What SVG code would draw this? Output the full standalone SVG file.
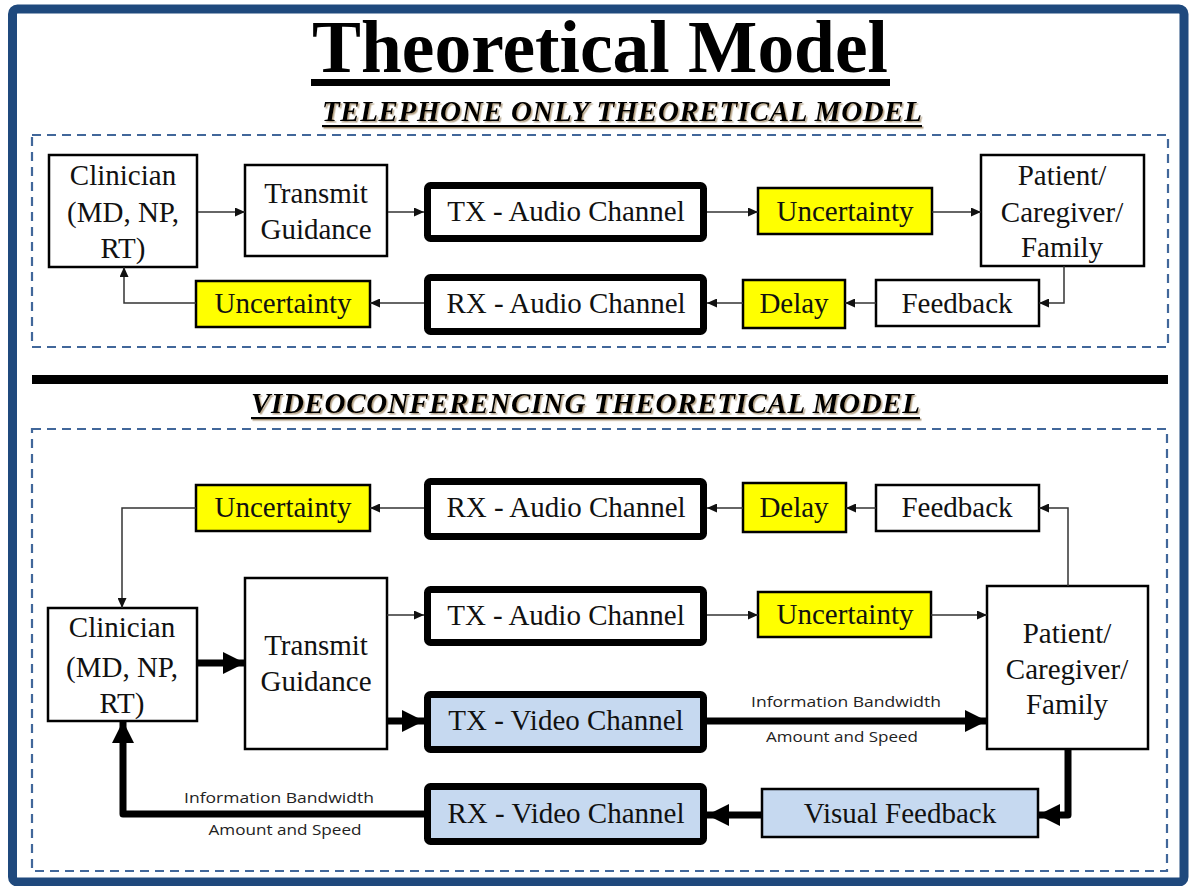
<svg xmlns="http://www.w3.org/2000/svg" width="1190" height="886" viewBox="0 0 1190 886">
  <defs>
    <style>
      .frame { fill: #ffffff; stroke: #1f497d; stroke-width: 9; }
      .zone { fill: none; stroke: #41679a; stroke-width: 2.2; stroke-dasharray: 9 6; }
      .box { fill: #ffffff; stroke: #000; stroke-width: 2.5; }
      .warn { fill: #ffff00; stroke: #000; stroke-width: 2.5; }
      .vis { fill: #c6d9f0; stroke: #000; stroke-width: 2.5; }
      .chan { fill: #ffffff; stroke: #000; stroke-width: 7; }
      .chanv { fill: #c6d9f0; stroke: #000; stroke-width: 7; }
      .lbl { font-family: "Liberation Serif", "Times New Roman", serif; font-size: 29px; fill: #111; text-anchor: middle; }
      .note { font-family: "Open Sans", "Liberation Sans", sans-serif; font-size: 15px; fill: #222; text-anchor: middle; }
      .head { font-family: "Liberation Serif", "Times New Roman", serif; font-weight: bold; font-style: italic; font-size: 29px; fill: #000; }
      .thin { fill: none; stroke: #333; stroke-width: 1.5; marker-end: url(#arrowThin); }
      .thick { fill: none; stroke: #000; stroke-width: 7; stroke-linejoin: round; marker-end: url(#arrowThick); }
    </style>
    <marker id="arrowThin" markerUnits="userSpaceOnUse" markerWidth="10" markerHeight="9" refX="10" refY="4.5" orient="auto">
      <path d="M0,0 L10,4.5 L0,9 z" fill="#111"/>
    </marker>
    <marker id="arrowThick" markerUnits="userSpaceOnUse" markerWidth="22" markerHeight="22" refX="22" refY="11" orient="auto">
      <path d="M0,0 L22,11 L0,22 z" fill="#000"/>
    </marker>
    <filter id="softShadow" x="-5%" y="-30%" width="110%" height="160%">
      <feDropShadow dx="1.5" dy="1.5" stdDeviation="0.6" flood-color="#7a5a2a" flood-opacity="0.55"/>
    </filter>
  </defs>

  <!-- outer frame -->
  <rect class="frame" x="12.5" y="9" width="1171.5" height="873" rx="5"/>

  <!-- headings -->
  <g id="title">
    <text x="600" y="72" font-family="Liberation Serif, Times New Roman, serif" font-weight="bold" font-size="73" text-anchor="middle" textLength="576" lengthAdjust="spacingAndGlyphs">Theoretical Model</text>
    <rect x="311" y="79" width="579" height="7" fill="#000"/>
  </g>
  <g id="heading-telephone" filter="url(#softShadow)">
    <text class="head" x="322" y="121" textLength="600" lengthAdjust="spacing">TELEPHONE ONLY THEORETICAL MODEL</text>
    <rect x="322" y="125" width="600" height="2.2" fill="#000"/>
  </g>
  <g id="heading-video" filter="url(#softShadow)">
    <text class="head" x="251" y="413" textLength="669" lengthAdjust="spacing">VIDEOCONFERENCING THEORETICAL MODEL</text>
    <rect x="251" y="417" width="669" height="2.2" fill="#000"/>
  </g>

  <!-- section frames and divider -->
  <rect class="zone" x="32" y="135" width="1136" height="212"/>
  <rect x="32" y="375" width="1136" height="9" fill="#000"/>
  <rect class="zone" x="32" y="429" width="1135" height="442"/>

  <!-- ===== telephone-only model ===== -->
  <g id="t-clinician">
    <rect class="box" x="49" y="155" width="148" height="112"/>
    <text class="lbl" x="123" y="185">Clinician</text>
    <text class="lbl" x="123" y="222">(MD, NP,</text>
    <text class="lbl" x="123" y="258">RT)</text>
  </g>
  <g id="t-transmit">
    <rect class="box" x="245" y="165" width="142" height="91"/>
    <text class="lbl" x="316" y="203">Transmit</text>
    <text class="lbl" x="316" y="239">Guidance</text>
  </g>
  <g id="t-tx-audio">
    <rect class="chan" x="427.5" y="185.5" width="276" height="53" rx="3"/>
    <text class="lbl" x="566" y="221">TX - Audio Channel</text>
  </g>
  <g id="t-uncertainty-out">
    <rect class="warn" x="758" y="188" width="174" height="46"/>
    <text class="lbl" x="845" y="221">Uncertainty</text>
  </g>
  <g id="t-patient">
    <rect class="box" x="981" y="155" width="163" height="111"/>
    <text class="lbl" x="1062" y="185">Patient/</text>
    <text class="lbl" x="1062" y="222">Caregiver/</text>
    <text class="lbl" x="1062" y="257">Family</text>
  </g>
  <g id="t-feedback">
    <rect class="box" x="876" y="280" width="163" height="46"/>
    <text class="lbl" x="957" y="313">Feedback</text>
  </g>
  <g id="t-delay">
    <rect class="warn" x="743" y="280" width="102" height="48"/>
    <text class="lbl" x="794" y="313">Delay</text>
  </g>
  <g id="t-rx-audio">
    <rect class="chan" x="427.5" y="277.5" width="276" height="54" rx="3"/>
    <text class="lbl" x="566" y="313">RX - Audio Channel</text>
  </g>
  <g id="t-uncertainty-in">
    <rect class="warn" x="196" y="281" width="174" height="46"/>
    <text class="lbl" x="283" y="313">Uncertainty</text>
  </g>

  <!-- ===== videoconferencing model ===== -->
  <g id="v-uncertainty-in">
    <rect class="warn" x="196" y="485" width="174" height="46"/>
    <text class="lbl" x="283" y="517">Uncertainty</text>
  </g>
  <g id="v-rx-audio">
    <rect class="chan" x="427.5" y="481.5" width="276" height="55" rx="3"/>
    <text class="lbl" x="566" y="517">RX - Audio Channel</text>
  </g>
  <g id="v-delay">
    <rect class="warn" x="743" y="483" width="103" height="49"/>
    <text class="lbl" x="794" y="517">Delay</text>
  </g>
  <g id="v-feedback">
    <rect class="box" x="876" y="485" width="163" height="46"/>
    <text class="lbl" x="957" y="517">Feedback</text>
  </g>
  <g id="v-clinician">
    <rect class="box" x="48" y="608" width="149" height="113"/>
    <text class="lbl" x="122" y="637">Clinician</text>
    <text class="lbl" x="122" y="677">(MD, NP,</text>
    <text class="lbl" x="122" y="713">RT)</text>
  </g>
  <g id="v-transmit">
    <rect class="box" x="245" y="578" width="142" height="171"/>
    <text class="lbl" x="316" y="655">Transmit</text>
    <text class="lbl" x="316" y="691">Guidance</text>
  </g>
  <g id="v-tx-audio">
    <rect class="chan" x="427.5" y="589.5" width="276" height="53" rx="3"/>
    <text class="lbl" x="566" y="625">TX - Audio Channel</text>
  </g>
  <g id="v-uncertainty-out">
    <rect class="warn" x="758" y="592" width="173" height="45"/>
    <text class="lbl" x="845" y="624">Uncertainty</text>
  </g>
  <g id="v-patient">
    <rect class="box" x="987" y="586" width="161" height="163"/>
    <text class="lbl" x="1067" y="643">Patient/</text>
    <text class="lbl" x="1067" y="679">Caregiver/</text>
    <text class="lbl" x="1067" y="714">Family</text>
  </g>
  <g id="v-tx-video">
    <rect class="chanv" x="427.5" y="694.5" width="276" height="55" rx="3"/>
    <text class="lbl" x="566" y="730">TX - Video Channel</text>
  </g>
  <g id="v-rx-video">
    <rect class="chanv" x="427.5" y="786.5" width="276" height="55" rx="3"/>
    <text class="lbl" x="566" y="823">RX - Video Channel</text>
  </g>
  <g id="v-visual-feedback">
    <rect class="vis" x="762" y="789" width="276" height="48"/>
    <text class="lbl" x="900" y="823">Visual Feedback</text>
  </g>

  <!-- connectors -->
  <g id="connectors">
    <!-- telephone-only loop -->
    <path class="thin" d="M198,212 H245"/>
    <path class="thin" d="M388,212 H424"/>
    <path class="thin" d="M707,212 H758"/>
    <path class="thin" d="M932,212 H981"/>
    <path class="thin" d="M1064,266 V303 H1039"/>
    <path class="thin" d="M876,303 H845"/>
    <path class="thin" d="M743,303 H707"/>
    <path class="thin" d="M424,303 H370"/>
    <path class="thin" d="M196,303 H124 V267"/>

    <!-- videoconferencing: audio loop -->
    <path class="thin" d="M1068,586 V508 H1039"/>
    <path class="thin" d="M876,508 H846"/>
    <path class="thin" d="M743,508 H707"/>
    <path class="thin" d="M424,508 H370"/>
    <path class="thin" d="M196,508 H122 V608"/>
    <path class="thin" d="M387,615 H424"/>
    <path class="thin" d="M707,615 H758"/>
    <path class="thin" d="M931,615 H987"/>

    <!-- videoconferencing: video loop -->
    <path class="thick" d="M197,663 H245"/>
    <path class="thick" d="M387,721 H424"/>
    <path class="thick" d="M707,721 H987"/>
    <path class="thick" d="M1068,749 V815 H1038"/>
    <path class="thick" d="M762,815 H707"/>
    <path class="thick" d="M424,814 H123 V721"/>

    <text class="note" x="846" y="707" textLength="190" lengthAdjust="spacingAndGlyphs">Information Bandwidth</text>
    <text class="note" x="842" y="742" textLength="152" lengthAdjust="spacingAndGlyphs">Amount and Speed</text>
    <text class="note" x="279" y="803" textLength="190" lengthAdjust="spacingAndGlyphs">Information Bandwidth</text>
    <text class="note" x="285" y="835" textLength="153" lengthAdjust="spacingAndGlyphs">Amount and Speed</text>
  </g>
</svg>
